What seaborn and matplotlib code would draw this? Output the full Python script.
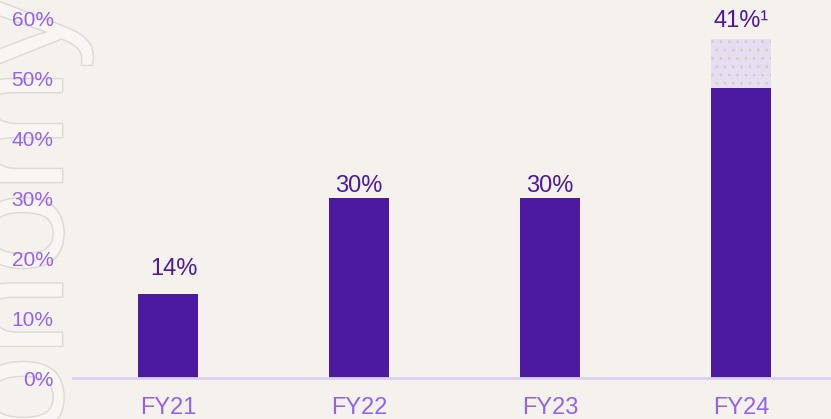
import matplotlib
matplotlib.use('Agg')
import matplotlib.pyplot as plt
import matplotlib.patheffects as pe
import seaborn as sns

# chart data
years = ['FY21', 'FY22', 'FY23', 'FY24']
solid = [14, 30, 30, 48.3]
total = [14, 30, 30, 56.5]
labels = ['14%', '30%', '30%', '41%¹']
yticks = [0, 10, 20, 30, 40, 50, 60]

# label offsets above the bars (points)
label_dx = [4, 0, 0, 0]
label_dy = [13.7, 4.3, 4.3, 8.6]

bg = '#f5f1ed'
purple = '#4c1a9e'
tick_purple = '#9464e8'

sns.set_style('white')
plt.rcParams['font.family'] = ['Liberation Sans', 'DejaVu Sans']
plt.rcParams['hatch.linewidth'] = 0.6

fig = plt.figure(figsize=(8.31, 4.19), dpi=100, facecolor=bg)
ax = fig.add_axes([73 / 831, 41 / 419, 758 / 831, 378 / 419])
ax.patch.set_alpha(0)

# faint outlined watermark on the left
fig.text(62 / 831, 1.01, 'economy', rotation=90, rotation_mode='anchor',
         ha='right', va='baseline', fontsize=106, color='#f8f5f2', zorder=-1,
         path_effects=[pe.Stroke(linewidth=2, foreground='#ddd8d3'), pe.Normal()])

# dotted top part (full total), then solid part on top
sns.barplot(x=years, y=total, color='#e5ddf2', width=0.314, ax=ax,
            hatch='..', linewidth=0, edgecolor='#dccaa8', saturation=1)
sns.barplot(x=years, y=solid, color=purple, width=0.314, ax=ax,
            linewidth=0, saturation=1)

for i, (v, t) in enumerate(zip(total, labels)):
    ax.annotate(t, (i, v), xytext=(label_dx[i], label_dy[i]), textcoords='offset points',
                ha='center', va='baseline', fontsize=17, color=purple)

ax.set_ylim(0, 63)
ax.set_xlim(-0.497, 3.47)
ax.set_yticks(yticks)
ax.set_yticklabels([f'{y}%' for y in yticks], fontsize=15, color=tick_purple)
ax.tick_params(axis='y', length=0, pad=14)
ax.tick_params(axis='x', length=0, pad=14, labelsize=17, labelcolor=tick_purple)
ax.set_xlabel('')
ax.set_ylabel('')
for s in ['top', 'right', 'left']:
    ax.spines[s].set_visible(False)
ax.spines['bottom'].set_color('#dcd0f2')
ax.spines['bottom'].set_linewidth(2)

fig.savefig('out.png', dpi=100, facecolor=bg)
